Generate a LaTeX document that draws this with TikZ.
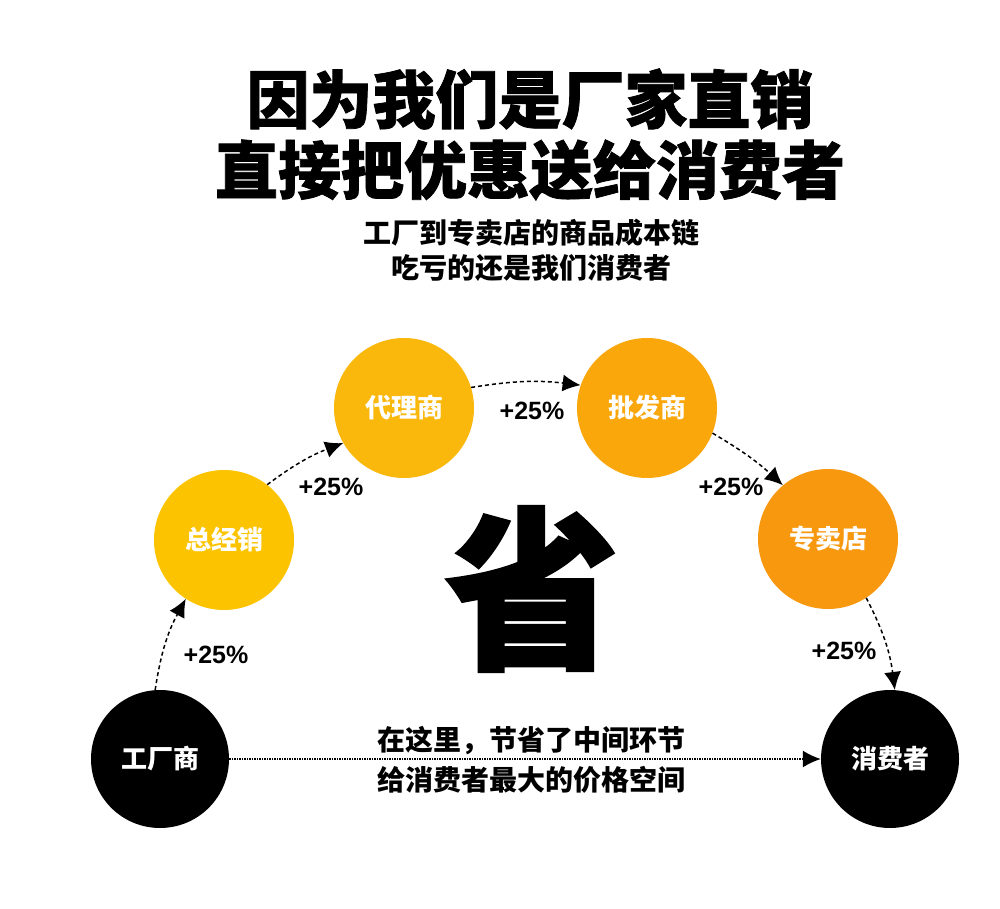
\documentclass[tikz,border=0pt]{standalone}
\usepackage{fontspec}
\usepackage{tikz}
\usetikzlibrary{arrows.meta}
\newfontfamily\cjk{Noto Sans CJK SC}
\newfontfamily\cjkheavy{Noto Sans CJK SC}[BoldFeatures={FakeBold=1.2}]
\newfontfamily\cjkblack{Noto Sans CJK SC}[BoldFeatures={FakeBold=1.6}]
\newfontfamily\latsans{Liberation Sans}
\definecolor{cYellowA}{RGB}{252,196,0}
\definecolor{cYellowB}{RGB}{251,184,12}
\definecolor{cOrangeA}{RGB}{249,167,10}
\definecolor{cOrangeB}{RGB}{247,152,15}

\begin{document}
\begin{tikzpicture}[x=1pt,y=1pt,
        stage/.style={circle, minimum size=140pt, inner sep=0pt, text=white,
            font=\cjk\bfseries\fontsize{26}{26}\selectfont},
        pct/.style={font=\latsans\bfseries\fontsize{25}{25}\selectfont},
        flow/.style={dashed, dash pattern=on 4pt off 3pt, line width=1.5pt,
            -{Latex[length=18pt,width=17pt]}, bend left=#1},
        flow/.default=8]
        \useasboundingbox (0,0) rectangle (1000,908);
        \fill[white] (0,0) rectangle (1000,908);

        % Title lines
        \node[font=\cjkheavy\bfseries\fontsize{63}{63}\selectfont] (title1) at (530,809) {因为我们是厂家直销};
        \node[font=\cjkheavy\bfseries\fontsize{63}{63}\selectfont] (title2) at (530,738) {直接把优惠送给消费者};
        \node[font=\cjk\bfseries\fontsize{28}{28}\selectfont] (sub1) at (531,675) {工厂到专卖店的商品成本链};
        \node[font=\cjk\bfseries\fontsize{28}{28}\selectfont] (sub2) at (531,640) {吃亏的还是我们消费者};

        % Chain of sellers
        \node[stage, fill=black, minimum size=138pt] (gcs) at (160,149) {工厂商};
        \node[stage, fill=cYellowA] (zjx) at (224,368) {总经销};
        \node[stage, fill=cYellowB] (dls) at (404,500) {代理商};
        \node[stage, fill=cOrangeA] (pfs) at (647,500) {批发商};
        \node[stage, fill=cOrangeB] (zmd) at (828,369) {专卖店};
        \node[stage, fill=black, minimum size=138pt] (xfz) at (890,149) {消费者};

        % Mark-ups
        \draw[flow=10] (gcs.94) to (zjx.-123);
        \draw[flow] (zjx.52) to (dls.-150);
        \draw[flow] (dls.17) to (pfs.161);
        \draw[flow=6] (pfs.-21) to (zmd.130);
        \draw[flow=10] (zmd.-57) to (xfz.86);
        \node[pct] (p1) at (216,253) {+25\%};
        \node[pct] (p2) at (331,421) {+25\%};
        \node[pct] (p3) at (532,497) {+25\%};
        \node[pct] (p4) at (731,421) {+25\%};
        \node[pct] (p5) at (844,257) {+25\%};

        % Direct way
        \node[font=\cjkblack\bfseries\fontsize{174}{174}\selectfont] (sheng) at (532,319) {省};
        \draw[densely dotted, line width=1.5pt, -{Latex[length=18pt,width=17pt]}] (gcs.east) -- (xfz.west);
        \node[font=\cjk\bfseries\fontsize{28}{28}\selectfont] (mid1) at (531,167) {在这里，节省了中间环节};
        \node[font=\cjk\bfseries\fontsize{28}{28}\selectfont] (mid2) at (531,128) {给消费者最大的价格空间};
\end{tikzpicture}
\end{document}
